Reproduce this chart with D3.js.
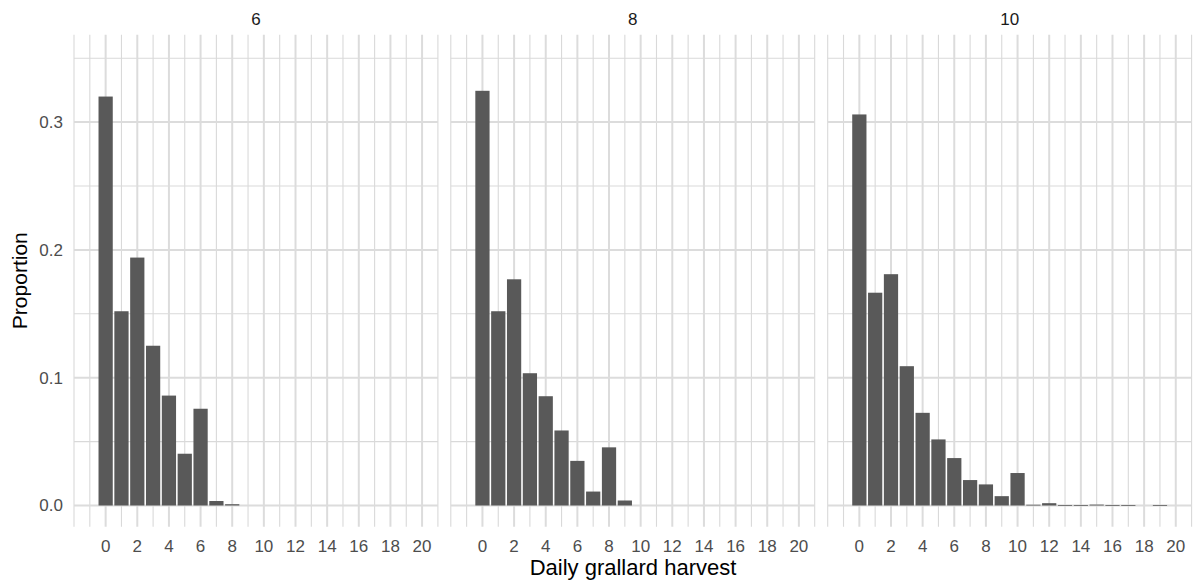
<!DOCTYPE html>
<html>
<head>
<meta charset="utf-8">
<script src="https://cdn.jsdelivr.net/npm/d3@7"></script>
<style>
  body { margin: 0; background: #fff; }
  svg { display: block; font-family: "Liberation Sans", Arial, sans-serif; }
</style>
</head>
<body>
<svg id="chart" width="1198" height="585"></svg>
<script>
// ---- data ----
const facets = ["6", "8", "10"];
const harvest = d3.range(0, 21);              // 0..20
const prop6  = [0.320, 0.152, 0.194, 0.125, 0.086, 0.0405, 0.0757, 0.0035, 0.001, 0, 0, 0, 0, 0, 0, 0, 0, 0, 0, 0, 0];
const prop8  = [0.3245, 0.152, 0.177, 0.1035, 0.0855, 0.0587, 0.0349, 0.0109, 0.0455, 0.0039, 0, 0, 0, 0, 0, 0, 0, 0, 0, 0, 0];
const prop10 = [0.306, 0.1665, 0.181, 0.109, 0.0725, 0.0517, 0.0371, 0.0199, 0.0165, 0.0073, 0.0254, 0.0006, 0.0018, 0.0004, 0.0004, 0.0007, 0.0004, 0.0004, 0, 0.0004, 0];
const seriesValues = [prop6, prop8, prop10];
const xTickLabels = d3.range(0, 21, 2);
const yTickLabels = [0, 0.1, 0.2, 0.3];
const yMinor = [0.05, 0.15, 0.25, 0.35];
const xMinor = [-2, -1, 1, 3, 5, 7, 9, 11, 13, 15, 17, 19, 21];

// ---- layout ----
const svg = d3.select("#chart");
const panelTop = 34.7, panelBottom = 526.7;
const panelLefts = [74, 450.8, 827.7];
const panelW = 363.9;

const y = d3.scaleLinear().domain([-0.0166, 0.3684]).range([panelBottom, panelTop]);

facets.forEach((f, i) => {
  const x = d3.scaleLinear().domain([-2, 21]).range([panelLefts[i], panelLefts[i] + panelW]);
  const g = svg.append("g");
  const bw = (x(1) - x(0)) * 0.9;

  // minor grid
  g.selectAll(".vminor").data(xMinor).join("line")
    .attr("x1", d => x(d)).attr("x2", d => x(d))
    .attr("y1", panelTop).attr("y2", panelBottom)
    .attr("stroke", "#d9d9d9").attr("stroke-width", 1.1);
  g.selectAll(".hminor").data(yMinor).join("line")
    .attr("x1", panelLefts[i]).attr("x2", panelLefts[i] + panelW)
    .attr("y1", d => y(d)).attr("y2", d => y(d))
    .attr("stroke", "#d9d9d9").attr("stroke-width", 1.1);
  // major grid
  g.selectAll(".vmajor").data(xTickLabels).join("line")
    .attr("x1", d => x(d)).attr("x2", d => x(d))
    .attr("y1", panelTop).attr("y2", panelBottom)
    .attr("stroke", "#dcdcdc").attr("stroke-width", 2);
  g.selectAll(".hmajor").data(yTickLabels).join("line")
    .attr("x1", panelLefts[i]).attr("x2", panelLefts[i] + panelW)
    .attr("y1", d => y(d)).attr("y2", d => y(d))
    .attr("stroke", "#dcdcdc").attr("stroke-width", 2);

  // bars
  const vals = seriesValues[i];
  g.selectAll("rect.bar").data(harvest.filter(h => vals[h] > 0)).join("rect")
    .attr("class", "bar")
    .attr("x", h => x(h) - bw / 2)
    .attr("width", bw)
    .attr("y", h => y(vals[h]))
    .attr("height", h => Math.max(0.8, y(0) - y(vals[h])))
    .attr("fill", "#595959");

  // strip label
  g.append("text")
    .attr("x", panelLefts[i] + panelW / 2).attr("y", 25)
    .attr("text-anchor", "middle").attr("font-size", 17).attr("fill", "#1a1a1a")
    .text(f);

  // x axis tick labels
  g.selectAll(".xt").data(xTickLabels).join("text")
    .attr("x", d => x(d)).attr("y", 552)
    .attr("text-anchor", "middle").attr("font-size", 17).attr("fill", "#4d4d4d")
    .text(d => d);
});

// y tick labels (first panel only)
svg.selectAll(".yt").data(yTickLabels).join("text")
  .attr("x", 63).attr("y", d => y(d) + 6)
  .attr("text-anchor", "end").attr("font-size", 17).attr("fill", "#4d4d4d")
  .text(d => d3.format(".1f")(d));

// axis titles
svg.append("text")
  .attr("x", 633).attr("y", 575)
  .attr("text-anchor", "middle").attr("font-size", 22).attr("fill", "#000")
  .text("Daily grallard harvest");
svg.append("text")
  .attr("transform", "translate(27,280.7) rotate(-90)")
  .attr("text-anchor", "middle").attr("font-size", 21).attr("fill", "#000")
  .text("Proportion");
</script>
</body>
</html>
